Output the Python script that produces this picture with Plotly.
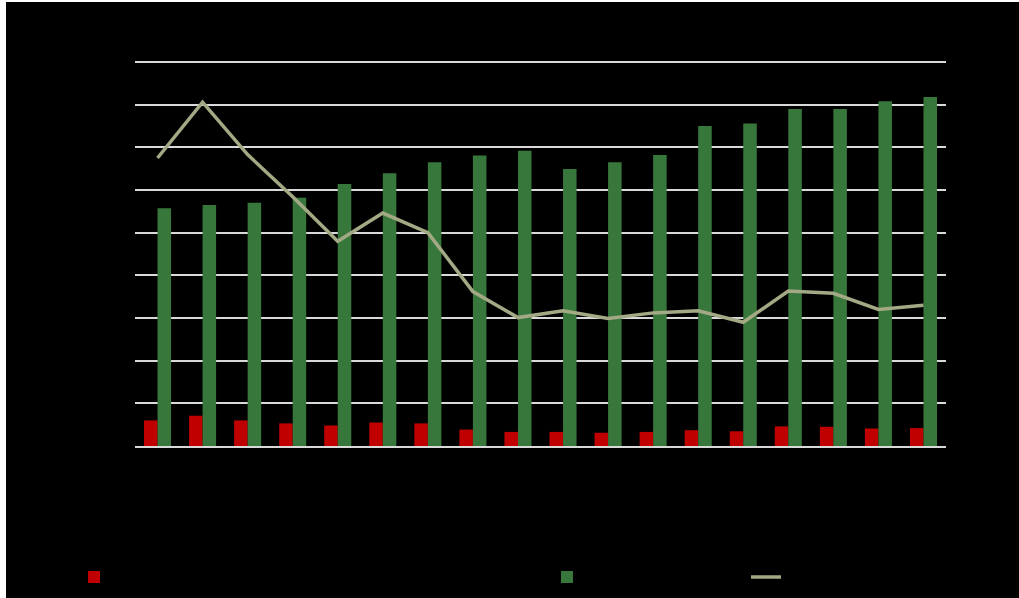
import plotly.graph_objects as go

categories = [str(y) for y in range(2005, 2023)]
red_values = [6.0, 7.1, 6.0, 5.3, 4.8, 5.5, 5.3, 3.85, 3.3, 3.3, 3.1, 3.3, 3.7, 3.45, 4.6, 4.5, 4.1, 4.2]
green_values = [55.7, 56.5, 57.0, 58.2, 61.4, 63.9, 66.5, 68.1, 69.2, 64.9, 66.5, 68.2, 75.0, 75.6, 79.0, 79.0, 80.8, 81.8]
line_values = [67.5, 80.6, 68.3, 58.4, 48.0, 54.6, 50.0, 36.2, 30.1, 31.7, 29.9, 31.2, 31.7, 29.0, 36.3, 35.8, 32.0, 33.0]
y_ticks = [10, 20, 30, 40, 50, 60, 70, 80, 90]

series_names = ["Series A", "Series B", "Series C"]

W, H = 1019, 598
L, R, T, B = 135, 73, 58, 152
pw = W - L - R
ph = H - T - B

def px_x(p):
    return (p - L) / pw

def px_y(p):
    return (H - B - p) / ph

fig = go.Figure()
fig.add_trace(go.Bar(x=categories, y=red_values, name=series_names[0],
                     marker=dict(color="#C00000", line=dict(width=0)), legend="legend"))
fig.add_trace(go.Bar(x=categories, y=green_values, name=series_names[1],
                     marker=dict(color="#38773C", line=dict(width=0)), legend="legend2"))
fig.add_trace(go.Scatter(x=categories, y=line_values, name=series_names[2], mode="lines",
                         line=dict(color="#A3A985", width=3.5), legend="legend3"))

legend_common = dict(orientation="h", yanchor="middle", y=px_y(577), xanchor="left",
                     font=dict(color="black", size=12), bgcolor="rgba(0,0,0,0)")
fig.update_layout(
    width=W, height=H,
    margin=dict(l=L, r=R, t=T, b=B, pad=0, autoexpand=False),
    paper_bgcolor="white",
    plot_bgcolor="black",
    barmode="group", bargap=0.4, bargroupgap=0,
    showlegend=True,
    legend=dict(legend_common, x=px_x(74)),
    legend2=dict(legend_common, x=px_x(547)),
    legend3=dict(legend_common, x=px_x(746)),
    xaxis=dict(showgrid=False, showline=True, linecolor="#D9D9D9", linewidth=2,
               tickfont=dict(color="black"), ticks="", zeroline=False, automargin=False),
    yaxis=dict(range=[0, 90.94], tickvals=y_ticks,
               showgrid=True, gridcolor="#D9D9D9", gridwidth=1.5, automargin=False,
               zeroline=False, showline=False, tickfont=dict(color="black"), ticks=""),
    shapes=[dict(type="rect", xref="paper", yref="paper", layer="below",
                 x0=px_x(6), x1=px_x(W + 5), y0=px_y(H + 5), y1=px_y(2),
                 fillcolor="black", line=dict(width=0))],
)

fig.write_html("out.html", config={"displayModeBar": False},
               post_script="document.body.style.margin='0';document.body.style.overflow='hidden';")
